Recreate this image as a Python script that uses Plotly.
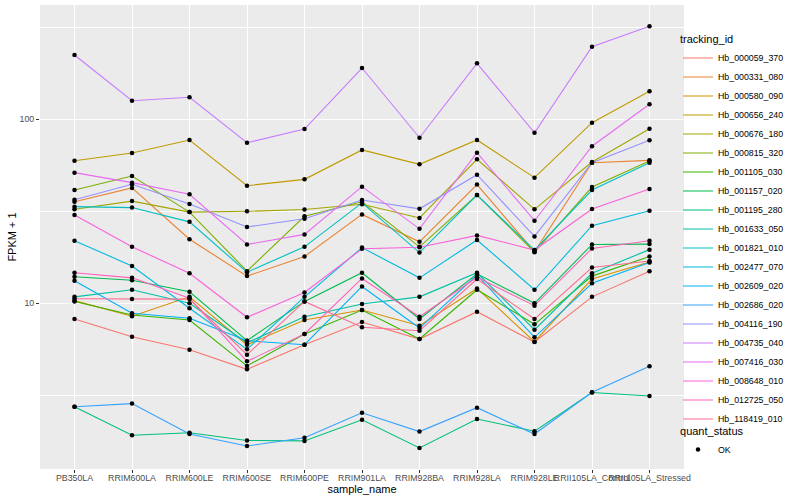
import plotly.graph_objects as go

samples = ["PB350LA", "RRIM600LA", "RRIM600LE", "RRIM600SE", "RRIM600PE", "RRIM901LA",
           "RRIM928BA", "RRIM928LA", "RRIM928LE", "RRII105LA_Control", "RRII105LA_Stressed"]

# FPKM + 1 values (log scale)
Hb_000059_370 = [8.18, 6.56, 5.57, 4.36, 5.93, 7.88, 6.37, 8.97, 6.14, 10.8, 14.9]
Hb_000331_080 = [35.5, 42.2, 22.2, 14.0, 17.9, 30.3, 21.5, 44.0, 19.0, 57.9, 59.6]
Hb_000580_090 = [10.3, 8.47, 10.8, 5.93, 8.08, 9.16, 7.53, 12.0, 6.16, 13.5, 16.7]
Hb_000656_240 = [59.3, 65.4, 76.9, 43.4, 47.0, 67.9, 56.7, 76.9, 48.0, 95.5, 141.4]
Hb_000676_180 = [32.3, 35.8, 31.2, 31.5, 32.2, 34.4, 29.0, 60.4, 32.3, 58.4, 88.6]
Hb_000815_320 = [41.1, 49.0, 31.2, 14.9, 29.6, 35.5, 20.2, 38.6, 18.9, 42.7, 59.1]
Hb_001105_030 = [10.2, 8.61, 8.08, 4.55, 6.79, 9.16, 6.37, 11.8, 7.66, 14.0, 17.9]
Hb_001157_020 = [13.9, 13.3, 11.5, 6.24, 10.2, 14.6, 8.18, 14.4, 9.96, 20.8, 20.9]
Hb_001195_280 = [2.73, 1.91, 1.97, 1.79, 1.78, 2.32, 1.63, 2.34, 2.01, 3.26, 3.12]
Hb_001633_050 = [10.8, 11.8, 9.96, 6.08, 8.42, 9.88, 10.8, 14.6, 7.16, 14.5, 19.5]
Hb_001821_010 = [33.4, 33.0, 27.6, 14.7, 20.2, 35.0, 18.8, 38.6, 19.4, 41.1, 57.9]
Hb_002477_070 = [21.8, 15.9, 9.36, 5.60, 10.8, 20.0, 13.7, 22.0, 11.8, 26.3, 31.7]
Hb_002609_020 = [13.2, 8.79, 8.26, 6.24, 5.93, 12.3, 7.31, 14.2, 6.51, 12.8, 16.6]
Hb_002686_020 = [2.73, 2.84, 1.94, 1.67, 1.85, 2.53, 2.00, 2.70, 1.94, 3.27, 4.53]
Hb_004116_190 = [36.4, 44.2, 34.5, 25.9, 28.7, 36.3, 32.5, 49.8, 23.0, 57.9, 76.6]
Hb_004735_040 = [222.7, 125.7, 131.2, 74.3, 88.2, 189.3, 79.1, 200.7, 84.2, 247.2, 319.0]
Hb_007416_030 = [51.1, 45.1, 39.0, 20.8, 23.6, 42.9, 25.3, 65.6, 28.0, 71.1, 120.2]
Hb_008648_010 = [30.1, 20.2, 14.5, 8.36, 11.4, 19.7, 20.1, 23.3, 19.4, 32.4, 41.6]
Hb_012725_050 = [14.6, 13.7, 10.6, 4.82, 6.79, 13.6, 8.42, 13.8, 9.67, 19.8, 21.8]
Hb_118419_010 = [10.55, 10.5, 10.5, 5.24, 10.2, 7.38, 7.07, 13.5, 8.18, 15.6, 16.9]

tracking_ids = ["Hb_000059_370", "Hb_000331_080", "Hb_000580_090", "Hb_000656_240",
                "Hb_000676_180", "Hb_000815_320", "Hb_001105_030", "Hb_001157_020",
                "Hb_001195_280", "Hb_001633_050", "Hb_001821_010", "Hb_002477_070",
                "Hb_002609_020", "Hb_002686_020", "Hb_004116_190", "Hb_004735_040",
                "Hb_007416_030", "Hb_008648_010", "Hb_012725_050", "Hb_118419_010"]
series_values = [Hb_000059_370, Hb_000331_080, Hb_000580_090, Hb_000656_240,
                 Hb_000676_180, Hb_000815_320, Hb_001105_030, Hb_001157_020,
                 Hb_001195_280, Hb_001633_050, Hb_001821_010, Hb_002477_070,
                 Hb_002609_020, Hb_002686_020, Hb_004116_190, Hb_004735_040,
                 Hb_007416_030, Hb_008648_010, Hb_012725_050, Hb_118419_010]
quant_status = "OK"

colors = ["#F8766D", "#EA8331", "#D89000", "#C09B00", "#A3A500", "#7CAE00", "#39B600",
          "#00BB4E", "#00BF7D", "#00C1A3", "#00BFC4", "#00BAE0", "#00B0F6", "#35A2FF",
          "#9590FF", "#C77CFF", "#E76BF3", "#FA62DB", "#FF62BC", "#FF6C91"]

FONT = "Liberation Sans, Arial, Helvetica, sans-serif"

fig = go.Figure()
for tid, vals, col in zip(tracking_ids, series_values, colors):
    fig.add_trace(go.Scatter(x=samples, y=vals, mode="lines", name=tid,
                             line=dict(color=col, width=1.1), legend="legend",
                             hoverinfo="skip"))

all_x = [s for _ in series_values for s in samples]
all_y = [v for vals in series_values for v in vals]
fig.add_trace(go.Scatter(x=all_x, y=all_y, mode="markers", name=quant_status,
                         marker=dict(color="black", size=4.5, symbol="circle"),
                         legend="legend2"))

fig.update_layout(
    width=800, height=500,
    margin=dict(l=40, r=116, t=5, b=31),
    paper_bgcolor="white",
    plot_bgcolor="#EBEBEB",
    font=dict(family=FONT, size=9, color="black"),
    legend=dict(title=dict(text="tracking_id", font=dict(size=11)),
                x=0.9907, xanchor="left", y=0.948, yanchor="top",
                font=dict(size=8.8), bgcolor="rgba(0,0,0,0)", itemwidth=30,
                tracegroupgap=0),
    legend2=dict(title=dict(text="quant_status", font=dict(size=11)),
                 x=0.9907, xanchor="left", y=0.104, yanchor="top",
                 font=dict(size=8.8), bgcolor="rgba(0,0,0,0)", itemwidth=30),
    showlegend=True,
)

fig.update_xaxes(
    type="category", categoryorder="array", categoryarray=samples,
    range=[-0.6, 10.6], automargin=False,
    showgrid=True, gridcolor="white", gridwidth=1.1,
    zeroline=False, showline=False,
    ticks="outside", ticklen=3, tickcolor="#333333", tickwidth=1,
    tickangle=0, ticklabelstandoff=-3,
    tickfont=dict(size=8.8, color="#4D4D4D"),
    title=dict(text="sample_name", font=dict(size=11), standoff=0),
)

fig.update_yaxes(
    type="log", range=[0.0978, 2.6196], automargin=False,
    tickmode="array", tickvals=[10, 100], ticktext=["10", "100"],
    showgrid=True, gridcolor="white", gridwidth=1.1,
    minor=dict(tickmode="array", tickvals=[3.1623, 31.623, 316.23],
               showgrid=True, gridcolor="white", gridwidth=0.55, ticks=""),
    zeroline=False, showline=False,
    ticks="outside", ticklen=3, tickcolor="#333333", tickwidth=1,
    tickfont=dict(size=8.8, color="#4D4D4D"),
    title=dict(text="FPKM + 1", font=dict(size=11), standoff=0),
)

fig.write_html("out.html",
               config={"displayModeBar": False},
               post_script="document.body.style.margin='0';document.body.style.overflow='hidden';")
